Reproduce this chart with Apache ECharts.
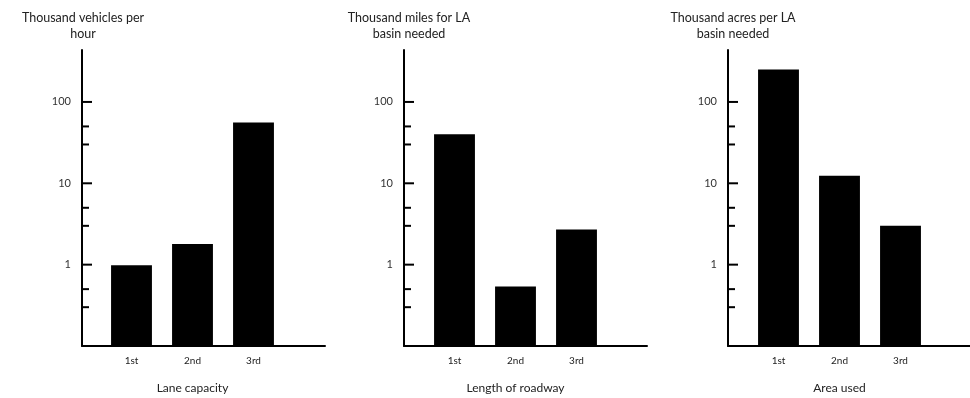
<!DOCTYPE html>
<html>
<head>
<meta charset="utf-8">
<script src="https://cdn.jsdelivr.net/npm/echarts@6/dist/echarts.min.js"></script>
<style>
  html, body { margin: 0; padding: 0; background: #fff; }
  #chart { width: 970px; height: 398px; }
</style>
</head>
<body>
<div id="chart"></div>
<script>
// Three small log-scale bar panels comparing lanes
const categories = ['1st', '2nd', '3rd'];
const laneCapacity = [0.98, 1.8, 56];      // thousand vehicles per hour
const roadwayLength = [40, 0.54, 2.7];     // thousand miles for LA basin
const areaUsed = [250, 12.4, 3.0];         // thousand acres per LA basin

const yTickValues = [0.3, 0.5, 1, 3, 5, 10, 30, 50, 100];
const yLabelValues = [1, 10, 100];
const yMin = 0.1;
const yMax = 435;

const panelTitles = [
  'Thousand vehicles per\nhour',
  'Thousand miles for LA\nbasin needed',
  'Thousand acres per LA\nbasin needed'
];
const panelXNames = ['Lane capacity', 'Length of roadway', 'Area used'];
const panelValues = [laneCapacity, roadwayLength, areaUsed];

// layout of each panel: frame (axis lines) and the inner band area for bars
const frames = [
  { left: 82, width: 243 },
  { left: 404, width: 243 },
  { left: 728, width: 242 }
];
const barAreas = [
  { left: 101, width: 183 },
  { left: 424, width: 183 },
  { left: 748, width: 183 }
];
const gridTop = 50;
const gridBottom = 52;

const FONT = 'Lato, "Open Sans", sans-serif';
const TEXT = '#222';

const grid = [], xAxis = [], yAxis = [], series = [];

panelValues.forEach((vals, p) => {
  const fi = 2 * p, bi = 2 * p + 1;
  grid.push({ left: frames[p].left, width: frames[p].width, top: gridTop, bottom: gridBottom, outerBoundsMode: 'none', containLabel: false });
  grid.push({ left: barAreas[p].left, width: barAreas[p].width, top: gridTop, bottom: gridBottom, outerBoundsMode: 'none', containLabel: false });

  // frame axes: visible axis lines and y labels
  xAxis.push({
    gridIndex: fi, type: 'value', min: 0, max: 1,
    axisLine: { show: true, onZero: false, lineStyle: { color: '#000', width: 2 } },
    axisTick: { show: false }, axisLabel: { show: false }, splitLine: { show: false }
  });
  yAxis.push({
    gridIndex: fi, type: 'log', logBase: 10, min: yMin, max: yMax,
    axisLine: { show: true, onZero: false, lineStyle: { color: '#000', width: 2 } },
    axisTick: { show: false }, splitLine: { show: false },
    axisLabel: {
      margin: 11, fontSize: 11, color: '#333', fontFamily: FONT,
      formatter: v => yLabelValues.some(t => Math.abs(t - v) / t < 1e-6) ? String(Math.round(v)) : ''
    },
    name: panelTitles[p], nameLocation: 'end', nameGap: 8,
    nameTextStyle: {
      fontSize: 12.5, color: TEXT, fontFamily: FONT, align: 'center',
      lineHeight: 16, padding: [0, 0, 0, p === 0 ? 2 : 10]
    }
  });

  // band axes: bars and category labels
  xAxis.push({
    gridIndex: bi, type: 'category', data: categories,
    axisLine: { show: false, onZero: false }, axisTick: { show: false }, splitLine: { show: false },
    axisLabel: { margin: 10, fontSize: 10, color: TEXT, fontFamily: FONT },
    name: panelXNames[p], nameLocation: 'middle', nameGap: 36,
    nameTextStyle: { fontSize: 12, color: TEXT, fontFamily: FONT }
  });
  yAxis.push({ gridIndex: bi, type: 'log', logBase: 10, min: yMin, max: yMax, show: false });

  // tick marks on the value axis (major at powers of ten, minor at 3 and 5)
  series.push({
    type: 'custom', xAxisIndex: fi, yAxisIndex: fi, silent: true,
    data: yTickValues.map(v => [0, v]),
    renderItem: (params, api) => {
      const v = api.value(1);
      const pt = api.coord([0, v]);
      const major = Math.abs(Math.log10(v) - Math.round(Math.log10(v))) < 1e-6;
      const len = major ? 10 : 7;
      return {
        type: 'line',
        shape: { x1: pt[0], y1: pt[1], x2: pt[0] + len, y2: pt[1] },
        style: { stroke: '#000', lineWidth: 2 }
      };
    }
  });

  // bars, each rising from the axis floor to its value
  series.push({
    type: 'custom', xAxisIndex: bi, yAxisIndex: bi, silent: true, clip: false,
    data: vals.map((v, i) => [i, v]),
    renderItem: (params, api) => {
      const top = api.coord([api.value(0), api.value(1)]);
      const base = api.coord([api.value(0), yMin])[1];
      const w = api.size([1, 0])[0] * 0.67;
      return {
        type: 'rect',
        shape: { x: top[0] - w / 2, y: top[1], width: w, height: base - top[1] },
        style: { fill: '#000' }
      };
    }
  });
});

const chart = echarts.init(document.getElementById('chart'), null, { renderer: 'canvas' });
chart.setOption({
  animation: false,
  backgroundColor: '#fff',
  grid, xAxis, yAxis, series
});
</script>
</body>
</html>
